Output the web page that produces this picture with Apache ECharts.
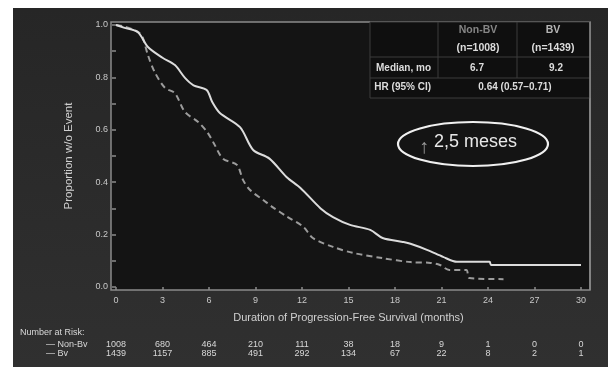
<!DOCTYPE html>
<html><head><meta charset="utf-8">
<script src="https://cdn.jsdelivr.net/npm/echarts@6/dist/echarts.min.js"></script>
<style>html,body{margin:0;padding:0;background:#fff}#c{width:608px;height:367px}</style>
</head><body><div id="c"></div>
<script>
const xTicks = [0,3,6,9,12,15,18,21,24,27,30];
const nonBvRisk = [1008,680,464,210,111,38,18,9,1,0,0];
const bvRisk = [1439,1157,885,491,292,134,67,22,8,2,1];
const nonBvCurve = [[0,1.0],[0.5,0.995],[1.0,0.985],[1.5,0.97],[1.74,0.95],[2.06,0.885],[2.5,0.82],[3.16,0.76],[3.8,0.74],[4.45,0.668],[5.3,0.63],[5.9,0.59],[6.3,0.55],[6.9,0.49],[7.8,0.466],[8.2,0.408],[8.65,0.37],[9.5,0.332],[10.1,0.305],[11,0.27],[12.1,0.229],[12.7,0.187],[14.0,0.153],[15.3,0.13],[17.2,0.11],[19.0,0.095],[20.3,0.092],[20.9,0.084],[21.5,0.065],[22.6,0.065],[22.8,0.034],[25,0.03]];
const bvCurve = [[0,1.0],[0.5,0.99],[1.4,0.973],[2.06,0.916],[3.0,0.875],[3.8,0.847],[4.45,0.798],[5.0,0.77],[5.85,0.752],[6.2,0.707],[6.7,0.664],[8.0,0.61],[8.85,0.523],[9.9,0.49],[11.0,0.42],[11.9,0.378],[13.2,0.30],[14.0,0.267],[15.1,0.237],[16.4,0.218],[17.2,0.187],[18.5,0.172],[19.0,0.165],[20.1,0.141],[21.1,0.115],[22.0,0.096],[24.1,0.096],[24.2,0.084],[30,0.084]];
const tableHeader = ['Non-BV','(n=1008)','BV','(n=1439)'];
const tableRows = [['Median, mo','6.7','9.2'],['HR (95% CI)','0.64 (0.57\u20130.71)']];
const noteText = '2,5 meses';

const F = 'Liberation Sans, Arial, sans-serif';
const chart = echarts.init(document.getElementById('c'));
function riskAxis(arr, off) {
  return {type:'value', min:0, max:30, interval:3, gridIndex:0, position:'bottom', offset:off,
    axisLine:{show:false}, axisTick:{show:false}, splitLine:{show:false},
    axisLabel:{margin:0, verticalAlign:'middle', color:'#d8d8d8', fontSize:9, fontFamily:F,
      formatter: v => { const i = xTicks.indexOf(v); return i >= 0 ? String(arr[i]) : ''; }}};
}
const g = [];
g.push({type:'rect', shape:{x:0,y:0,width:608,height:367}, style:{fill:'#fff'}, z:-10});
g.push({type:'rect', shape:{x:13,y:8,width:595,height:359}, style:{fill:new echarts.graphic.LinearGradient(0,0,0,1,[{offset:0,color:'#262626'},{offset:1,color:'#303030'}])}, z:-9});
g.push({type:'rect', shape:{x:111,y:22,width:479,height:268}, style:{fill:'#141414', stroke:'#8a8a8a', lineWidth:1.5}, z:-8});
// table
g.push({type:'rect', shape:{x:370,y:22,width:220,height:76}, style:{fill:'#0f0f0f', stroke:'#3c3c3c', lineWidth:1}, z:5});
g.push({type:'line', shape:{x1:370,y1:57,x2:590,y2:57}, style:{stroke:'#3c3c3c',lineWidth:1}, z:6});
g.push({type:'line', shape:{x1:370,y1:78,x2:590,y2:78}, style:{stroke:'#3c3c3c',lineWidth:1}, z:6});
g.push({type:'line', shape:{x1:438,y1:22,x2:438,y2:78}, style:{stroke:'#3c3c3c',lineWidth:1}, z:6});
g.push({type:'line', shape:{x1:517,y1:22,x2:517,y2:78}, style:{stroke:'#3c3c3c',lineWidth:1}, z:6});
g.push({type:'line', shape:{x1:590,y1:22,x2:590,y2:290}, style:{stroke:'#8a8a8a',lineWidth:1.5}, z:7});
function txt(t,x,y,col,size,align,bold){ g.push({type:'text', x:x, y:y, z:8, style:{text:t, fill:col, font:(bold?'bold ':'')+size+'px '+F, textAlign:align||'center', textVerticalAlign:'middle'}}); }
txt(tableHeader[0],478,30,'#858585',10.5,'center',true);
txt(tableHeader[1],478,48,'#dcdcdc',10.5,'center',true);
txt(tableHeader[2],553,30,'#b5b5b5',10.5,'center',true);
txt(tableHeader[3],553,48,'#dcdcdc',10.5,'center',true);
txt(tableRows[0][0],431,68,'#dcdcdc',10,'right',true);
txt(tableRows[0][1],477,68,'#dcdcdc',10,'center',true);
txt(tableRows[0][2],556,68,'#dcdcdc',10,'center',true);
txt(tableRows[1][0],431,87,'#dcdcdc',10,'right',true);
txt(tableRows[1][1],515,87,'#dcdcdc',10,'center',true);
// ellipse note
g.push({type:'ellipse', shape:{cx:473,cy:144,rx:75,ry:22}, style:{fill:'none', stroke:'#f0f0f0', lineWidth:2.2}, z:8});
txt('\u2191',424,147,'#9a9a9a',20,'center',false);
txt(noteText,434,142,'#e8e8e8',18,'left',false);
// risk table row labels
txt('Number at Risk:',20,333,'#d8d8d8',9,'left',false);
txt('\u2014 Non-Bv',46,345,'#d8d8d8',9,'left',false);
txt('\u2014 Bv',46,354,'#d8d8d8',9,'left',false);

chart.setOption({
  animation:false,
  backgroundColor:'transparent',
  graphic:{elements:g},
  grid:{left:116,right:27,top:25,bottom:80},
  xAxis:[{type:'value', min:0, max:30, interval:3, offset:3,
    name:'Duration of Progression-Free Survival (months)', nameLocation:'middle', nameGap:22,
    nameTextStyle:{color:'#d0d0d0', fontSize:11, fontFamily:F},
    axisLine:{show:false}, axisTick:{show:true, length:3, lineStyle:{color:'#8a8a8a', width:1.5}},
    splitLine:{show:false},
    axisLabel:{color:'#c8c8c8', fontSize:9, fontFamily:F, margin:6}},
    riskAxis(nonBvRisk,58), riskAxis(bvRisk,67)],
  yAxis:{type:'value', min:0, max:1, interval:0.2, offset:5,
    name:'Proportion w/o Event', nameLocation:'middle', nameGap:36,
    nameTextStyle:{color:'#d0d0d0', fontSize:11.5, fontFamily:F},
    axisLine:{show:false}, axisTick:{show:true, length:4, lineStyle:{color:'#8a8a8a', width:1.5}},
    minorTick:{show:true, splitNumber:2, length:4, lineStyle:{color:'#8a8a8a', width:1.5}},
    splitLine:{show:false},
    axisLabel:{color:'#c8c8c8', fontSize:9, fontFamily:F, margin:3, formatter: v => v.toFixed(1)}},
  series:[
    {type:'line', name:'Non-BV', data:nonBvCurve, showSymbol:false, z:3, smooth:0.3,
      lineStyle:{color:'#9c9c9c', width:2, type:[6,4]}},
    {type:'line', name:'BV', data:bvCurve, showSymbol:false, z:4, smooth:0.3,
      lineStyle:{color:'#dcdcdc', width:2}}
  ]
});
</script></body></html>
